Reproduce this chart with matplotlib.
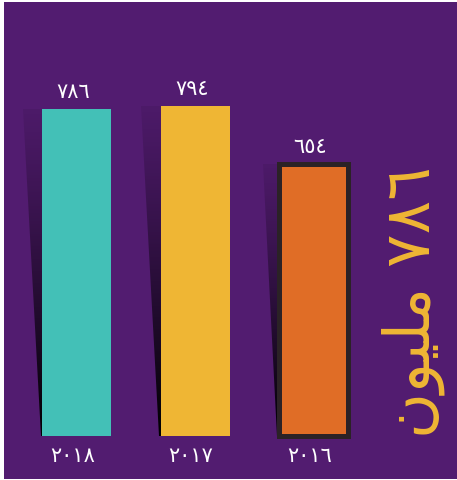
import numpy as np
import matplotlib
matplotlib.use("Agg")
import matplotlib.pyplot as plt
from matplotlib.patches import Polygon

plt.rcParams["font.family"] = ["DejaVu Sans"]

PURPLE = "#521c70"
years = ["٢٠١٨", "٢٠١٧", "٢٠١٦"]
values = [786, 794, 654]
value_labels = ["٧٨٦", "٧٩٤", "٦٥٤"]
colors = ["#43c0b7", "#efb634", "#e06d26"]
edge_colors = ["none", "none", "#2b2226"]
# visual order, presentation forms (matplotlib does no Arabic shaping)
headline = "ﻥﻮﻴﻠﻣ ٧٨٦"

W, H = 457, 481
fig = plt.figure(figsize=(W / 100, H / 100), dpi=100, facecolor="white")
ax = fig.add_axes([4 / W, 1 / H, 1 - 4 / W, (H - 4) / H])
ax.set_facecolor(PURPLE)
for s in ax.spines.values():
    s.set_visible(False)
ax.set_xticks([])
ax.set_yticks([])

x = np.arange(len(values))
width = 0.584

# slanted gradient shadow on the left side of each bar
grad = np.linspace(0.12, 1.0, 256).reshape(-1, 1)
shade = np.zeros((256, 1, 4))
shade[..., 3] = grad ** 1.3
for xi, v in zip(x, values):
    left = xi - width / 2
    dx_top = 0.00021 * v
    poly = Polygon([(left - dx_top, v), (left, v), (left, 0), (left - 0.015, 0)],
                   closed=True, facecolor="none", edgecolor="none")
    ax.add_patch(poly)
    im = ax.imshow(shade, extent=(left - dx_top, left, 0, v), origin="upper",
                   aspect="auto", zorder=1, interpolation="bilinear")
    im.set_clip_path(poly)

ax.bar(x, values, width, color=colors, edgecolor=edge_colors, linewidth=3.6, zorder=2)

for xi, v, lab in zip(x, values, value_labels):
    ax.text(xi - 0.03, v + 18, lab, ha="center", va="bottom", color="white",
            fontsize=15, zorder=3)
for xi, lab in zip(x, years):
    ax.text(xi - 0.035, -45, lab, ha="center", va="center", color="white",
            fontsize=15, zorder=3)

fig.text(413 / W, 1 - 302 / H, headline, rotation=90, ha="center", va="center",
         color="#efb634", fontsize=45)

ax.set_xlim(-0.617, 3.214)
ax.set_ylim(-103, 1043)
fig.savefig("out.png", dpi=100, facecolor="white")
